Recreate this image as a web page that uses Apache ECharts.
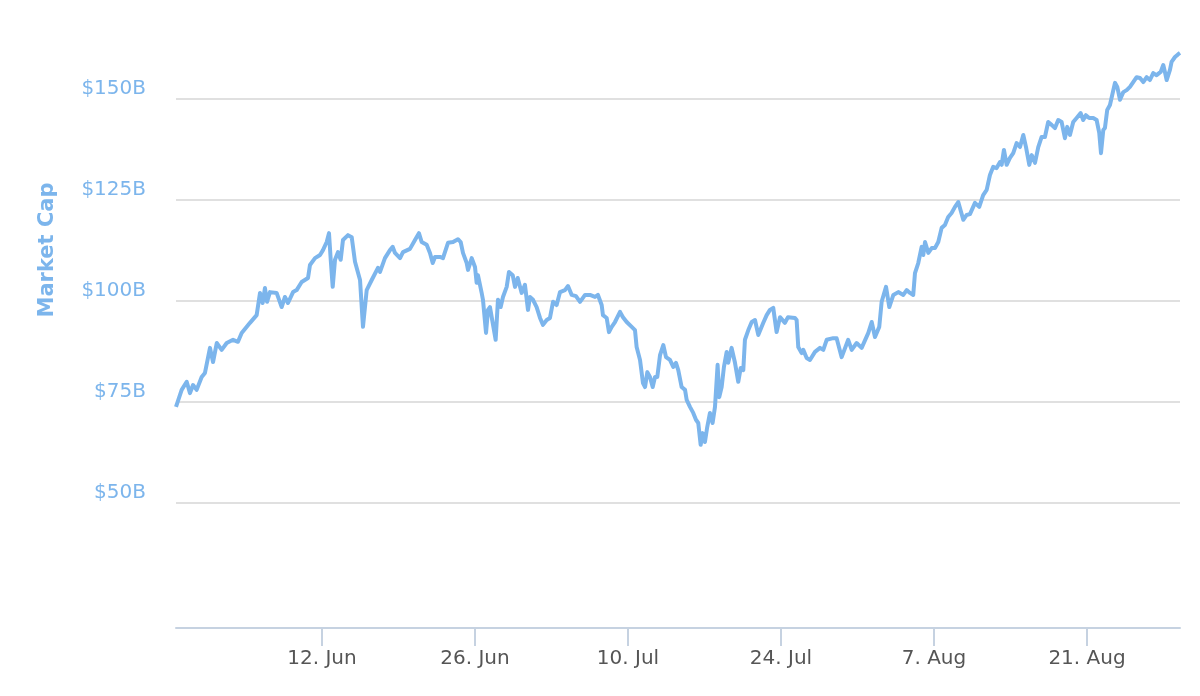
<!DOCTYPE html>
<html>
<head>
<meta charset="utf-8">
<script src="https://cdn.jsdelivr.net/npm/echarts@6/dist/echarts.min.js"></script>
<style>html,body{margin:0;padding:0;background:#fff}#c{width:1200px;height:696px}</style>
</head>
<body>
<div id="c"></div>
<script>
// Days since 2017-05-29 00:00 UTC
var dayOffsets = [0.64,1.16,1.62,1.92,2.20,2.53,2.99,3.29,3.75,4.03,4.37,4.82,5.28,5.86,6.31,6.65,7.41,8.02,8.33,8.57,8.78,8.97,9.24,9.85,10.31,10.61,10.89,11.35,11.68,12.14,12.72,12.90,13.36,13.82,14.09,14.43,14.64,14.80,14.98,15.19,15.46,15.71,15.92,16.38,16.72,17.02,17.48,17.75,18.09,18.55,19.12,
19.31,19.76,20.22,20.47,20.68,21.14,21.41,22.05,22.51,22.87,23.12,23.58,23.88,24.13,24.34,24.80,25.07,25.53,25.99,26.44,26.69,26.90,27.24,27.36,27.70,28.00,28.15,28.27,28.61,28.73,29.01,29.19,29.37,29.62,29.89,30.10,30.35,30.56,30.90,31.11,31.45,31.66,31.91,32.27,32.57,32.85,33.03,33.31,33.64,33.95,34.22,34.56,34.86,35.14,35.47,35.78,36.23,36.51,36.85,
37.24,37.61,38.07,38.52,38.98,39.25,39.59,39.71,40.05,40.26,40.51,40.81,41.27,41.54,41.88,42.34,42.64,42.79,43.10,43.37,43.56,43.77,44.01,44.26,44.47,44.68,44.93,45.23,45.48,45.84,46.14,46.39,46.60,46.91,47.22,47.37,47.67,47.97,48.22,48.43,48.65,48.83,49.04,49.25,49.50,49.74,49.96,50.20,50.35,50.57,50.78,51.03,51.17,51.48,51.79,52.09,52.31,52.55,52.70,53.01,53.32,53.62,53.92,54.38,54.69,54.99,55.29,55.60,55.91,56.36,56.64,57.28,57.43,57.58,57.89,58.04,58.35,58.65,59.11,59.57,59.87,60.18,60.78,61.09,61.55,62.15,62.47,62.92,63.38,63.99,64.30,64.60,64.99,65.21,65.61,65.91,66.28,66.73,67.19,67.50,67.80,68.10,68.26,68.56,68.87,69.02,69.18,69.48,69.79,70.09,70.39,70.70,71.00,71.30,71.61,71.92,72.22,72.68,72.99,73.29,73.75,74.14,74.50,74.82,75.12,75.42,75.73,76.04,76.19,76.40,76.65,76.95,77.25,77.56,77.87,78.17,78.42,78.72,78.94,79.24,79.54,79.85,80.15,80.45,80.76,81.07,81.37,81.68,81.98,82.19,82.44,82.74,83.05,83.42,83.65,83.90,84.20,84.57,84.88,85.12,85.28,85.49,85.64,85.85,86.10,86.35,86.56,86.77,87.02,87.32,87.63,87.93,88.23,88.54,88.85,89.15,89.46,89.76,90.06,90.37,90.74,90.98,91.13,91.29,91.59,91.74,92.05,92.35,92.51];

// Market cap, billions USD
var marketCapB = [73.8,78.0,80.0,77.2,79.2,78.0,81.2,82.2,88.4,84.9,89.6,87.9,89.6,90.4,89.9,92.1,94.6,96.5,102.0,99.5,103.2,99.8,102.2,102.0,98.5,101.0,99.5,102.2,102.7,104.7,105.7,108.9,110.6,111.4,112.6,114.6,116.8,110.2,103.5,110.2,112.1,110.2,115.1,116.3,115.8,109.7,105.2,93.6,102.7,105.2,108.2,
107.2,110.6,112.6,113.4,111.9,110.6,112.1,112.9,115.1,116.8,114.6,113.9,111.9,109.4,110.9,110.9,110.6,114.4,114.6,115.3,114.6,111.9,109.4,107.7,110.6,108.4,104.5,106.4,102.0,100.3,92.1,97.8,98.5,94.6,90.4,100.3,98.5,101.0,103.5,107.2,106.4,103.5,105.7,102.0,104.0,97.8,101.0,100.3,98.5,95.8,94.1,95.3,95.8,99.8,99.0,102.2,102.7,103.7,101.5,
101.2,99.8,101.5,101.5,101.0,101.5,99.0,96.5,95.8,92.3,93.6,94.8,97.3,96.0,94.8,93.6,92.8,88.6,85.4,79.7,78.7,82.4,81.2,78.7,81.2,81.2,86.6,89.1,86.1,85.4,83.7,84.7,82.9,78.7,78.0,75.5,73.8,72.3,70.6,69.8,64.4,67.3,65.1,68.8,72.3,69.8,73.8,84.2,76.2,78.7,83.7,87.4,84.7,88.4,84.7,80.0,83.4,82.9,90.4,92.8,94.8,95.3,91.6,94.6,96.5,97.8,98.3,92.3,96.0,94.6,96.0,95.8,95.3,88.6,87.1,87.9,85.9,85.4,87.4,88.4,87.9,90.4,90.8,90.8,86.1,90.4,87.9,89.6,88.4,92.1,94.8,91.1,93.6,99.8,103.5,98.5,101.5,102.2,101.5,102.7,102.0,101.5,106.9,109.4,113.4,111.4,114.6,111.9,113.1,113.1,114.6,118.1,118.8,120.8,121.8,123.3,124.5,120.1,121.3,121.5,124.3,123.3,126.2,127.5,131.2,133.2,132.9,134.4,133.7,137.4,133.7,135.4,136.6,139.1,138.1,141.1,138.1,133.7,136.1,134.2,138.1,140.6,140.6,144.3,143.6,142.8,144.8,144.3,140.3,143.1,141.1,144.3,145.3,146.5,144.8,146.0,145.3,145.3,144.8,141.6,136.6,142.3,142.8,147.3,148.5,151.5,154.0,153.0,149.8,151.7,152.2,153.0,154.2,155.4,155.2,154.2,155.4,154.7,156.4,155.9,156.7,158.4,156.7,154.7,157.2,159.2,160.4,161.1,161.4];

var xTickDates = ['2017-06-12','2017-06-26','2017-07-10','2017-07-24','2017-08-07','2017-08-21'];
var monthNames = ['Jan','Feb','Mar','Apr','May','Jun','Jul','Aug','Sep','Oct','Nov','Dec'];
var axisStartDay = 0.641, axisEndDay = 92.51;

var DAY = 86400000;
var base = Date.UTC(2017, 4, 29);
function toDay(s){ var p = s.split('-'); return Math.round((Date.UTC(+p[0], +p[1]-1, +p[2]) - base) / DAY); }
var n = Math.min(dayOffsets.length, marketCapB.length);
var seriesData = [];
for (var i = 0; i < n; i++) seriesData.push([dayOffsets[i], marketCapB[i]]);
var tickDays = xTickDates.map(toDay);

var chart = echarts.init(document.getElementById('c'), null, {renderer: 'canvas'});
chart.setOption({
  animation: false,
  backgroundColor: '#ffffff',
  grid: {left: 176, right: 20, top: 48.5, bottom: 92, containLabel: false},
  xAxis: {
    type: 'value',
    min: axisStartDay,
    max: axisEndDay,
    offset: 24,
    axisLine: {show: true, lineStyle: {color: '#c6d2e1', width: 2}},
    axisTick: {show: true, length: 18, lineStyle: {color: '#c6d2e1', width: 2}, customValues: tickDays},
    axisLabel: {
      customValues: tickDays,
      margin: 21,
      color: '#555555',
      fontSize: 20,
      fontFamily: 'DejaVu Sans',
      formatter: function (v) { var d = new Date(base + Math.round(v) * DAY); return d.getUTCDate() + '. ' + monthNames[d.getUTCMonth()]; }
    },
    splitLine: {show: false}
  },
  yAxis: {
    type: 'value',
    min: 25,
    max: 162.5,
    interval: 25,
    axisLine: {show: false},
    axisTick: {show: false},
    splitLine: {show: true, showMinLine: false, showMaxLine: false, lineStyle: {color: '#d6d6d6', width: 1.5}},
    axisLabel: {
      showMinLabel: false,
      showMaxLabel: false,
      margin: 30,
      color: '#7cb5ec',
      fontSize: 20,
      fontFamily: 'DejaVu Sans',
      verticalAlign: 'bottom',
      formatter: function (v) { return '$' + v + 'B'; }
    }
  },
  graphic: [{
    type: 'text',
    x: 48, y: 250,
    rotation: Math.PI / 2,
    style: {text: 'Market Cap', fill: '#7cb5ec', font: 'bold 21px "DejaVu Sans"', align: 'center', verticalAlign: 'middle'}
  }],
  series: [{
    type: 'line',
    data: seriesData,
    showSymbol: false,
    symbol: 'none',
    smooth: false,
    lineStyle: {color: '#7cb5ec', width: 4, join: 'round'},
    clip: true
  }]
});
</script>
</body>
</html>
